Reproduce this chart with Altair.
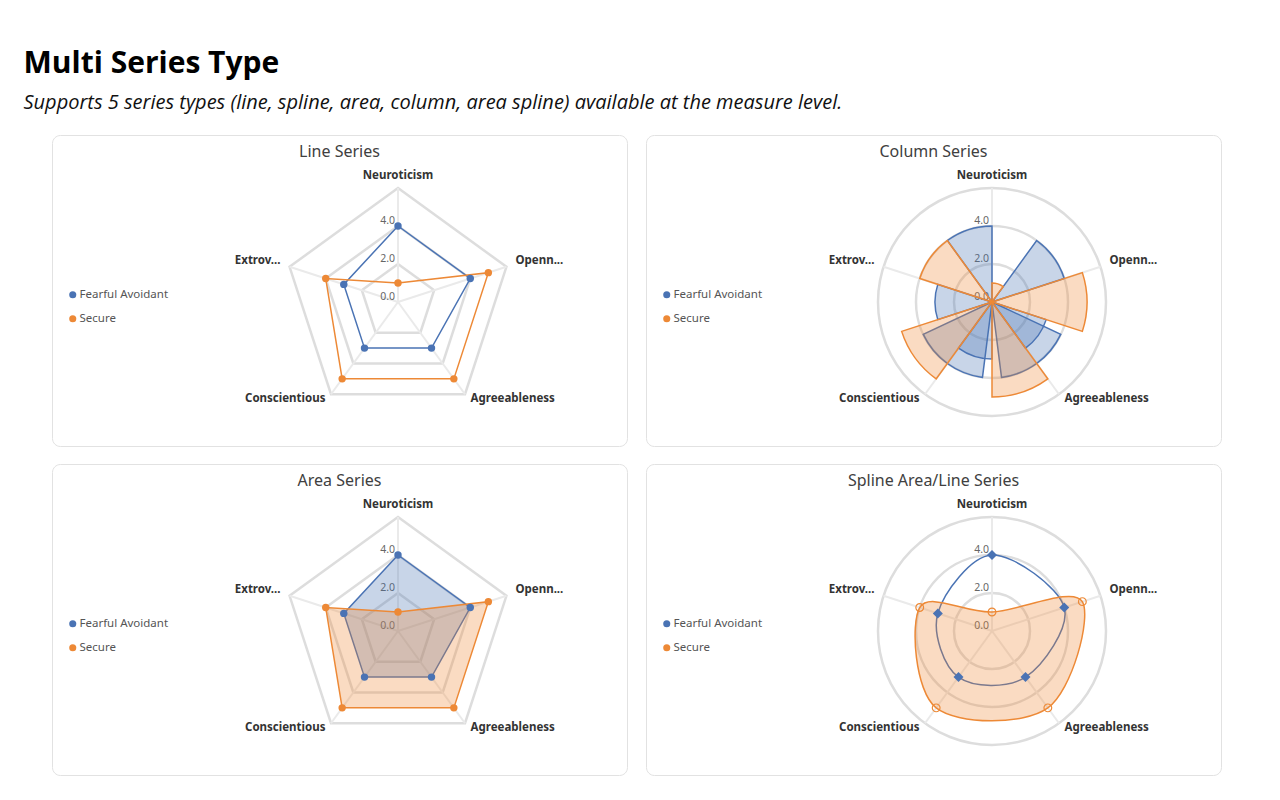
import math
import altair as alt
import pandas as pd

# ---------------- data ----------------
categories = ["Neuroticism", "Openness", "Agreeableness", "Conscientious", "Extroversion"]
axis_labels = ["Neuroticism", "Openn...", "Agreeableness", "Conscientious", "Extrov..."]
series_names = ["Fearful Avoidant", "Secure"]
fearful_avoidant = [4.0, 4.0, 3.0, 3.0, 3.0]
secure = [1.0, 5.0, 5.0, 5.0, 4.0]
# wider blue columns visible behind the grouped columns in the column panel
fearful_avoidant_wide = [0.0, 0.0, 4.0, 4.0, 0.0]
grid_levels = [2, 4, 6]
tick_values = [0, 2, 4]
tick_labels = ["0.0", "2.0", "4.0"]

# ---------------- style ----------------
BLUE = "#4a73b4"
ORANGE = "#ed8936"
GRID = "#dddddd"
SPOKE = "#eaeaea"
FONT = "Noto Sans"
W, H = 575, 311          # panel size
CX, CY = 346, 167        # radar centre inside a panel (pixels)
U = 19.0                 # pixels per unit
RMAX = 6

n = len(categories)
rows = []
for s, vals in zip(series_names, [fearful_avoidant, secure]):
    for i, (c, v) in enumerate(zip(categories, vals)):
        rows.append({"series": s, "category": c, "idx": i, "value": v})
points_df = pd.DataFrame(rows)
wide_df = pd.DataFrame({"category": categories, "idx": list(range(n)), "value": fearful_avoidant_wide})
wide_df = wide_df[wide_df["value"] > 0]
cat_df = pd.DataFrame({"category": categories, "label": axis_labels, "idx": list(range(n))})
grid_df = pd.DataFrame([{"level": l, "idx": i} for l in grid_levels for i in range(n)])
ring_df = pd.DataFrame({"level": grid_levels, "t0": [0] * len(grid_levels), "t1": [360] * len(grid_levels)})
tick_df = pd.DataFrame({"value": tick_values, "label": tick_labels})

ANG = f"datum.idx * 2 * PI / {n}"
STEP = 360 / n

xs = alt.Scale(domain=[-CX / U, (W - CX) / U], nice=False, zero=False)
ys = alt.Scale(domain=[-(H - CY) / U, CY / U], nice=False, zero=False)
rs = alt.Scale(domain=[0, RMAX], range=[0, RMAX * U], zero=True)
ts = alt.Scale(domain=[0, 360], range=[0, 2 * math.pi])
cs = alt.Scale(domain=series_names, range=[BLUE, ORANGE])


def X(f):
    return alt.X(f"{f}:Q", scale=xs, axis=None)


def Y(f):
    return alt.Y(f"{f}:Q", scale=ys, axis=None)


def legend():
    return alt.Legend(title=None, orient="none", legendX=15, legendY=154,
                      symbolType="circle", symbolSize=50, symbolStrokeWidth=0,
                      labelFont=FONT, labelFontSize=11.5, labelColor="#555555",
                      rowPadding=11, labelOffset=1, padding=0, symbolOpacity=1)


def xy(chart, valuefield="value"):
    return chart.transform_calculate(
        px=f"datum.{valuefield} * sin({ANG})",
        py=f"datum.{valuefield} * cos({ANG})",
        ox="0", oy="0",
    )


def polygon_grid():
    return xy(alt.Chart(grid_df), "level").mark_line(
        interpolate="linear-closed", color=GRID, strokeWidth=2.5
    ).encode(x=X("px"), y=Y("py"), detail="level:O", order="idx:Q")


def ring_grid():
    return alt.Chart(ring_df).transform_calculate(ox="0", oy="0").mark_arc(
        filled=False, color=GRID, strokeWidth=2.5
    ).encode(
        x=X("ox"), y=Y("oy"),
        theta=alt.Theta("t0:Q", scale=ts, stack=False), theta2=alt.Theta2("t1"),
        radius=alt.Radius("level:Q", scale=rs), radius2=alt.Radius2("level"),
    )


def spokes():
    return alt.Chart(cat_df).transform_calculate(
        px=f"{RMAX} * sin({ANG})", py=f"{RMAX} * cos({ANG})", ox="0", oy="0"
    ).mark_rule(color=SPOKE, strokeWidth=2).encode(
        x=X("ox"), y=Y("oy"), x2="px:Q", y2="py:Q"
    )


def ticks():
    return alt.Chart(tick_df).transform_calculate(ox="0", py="datum.value").mark_text(
        align="right", baseline="alphabetic", dx=-3, dy=-2, font=FONT, fontSize=10.5, color="#666666"
    ).encode(x=X("ox"), y=Y("py"), text="label:N")


def cat_labels():
    base = alt.Chart(cat_df).transform_calculate(
        px=f"{RMAX + 0.5} * sin({ANG})", py=f"{RMAX + 0.5} * cos({ANG})", s=f"sin({ANG})"
    )
    out = []
    for align, cond in [("center", "abs(datum.s) < 0.2"), ("left", "datum.s >= 0.2"), ("right", "datum.s <= -0.2")]:
        out.append(base.transform_filter(cond).mark_text(
            align=align, baseline="alphabetic", font=FONT, fontSize=11.5, fontWeight="bold", color="#333333"
        ).encode(x=X("px"), y=Y("py"), text="label:N"))
    return out


def series_line(name, color, interp, fill=False):
    kw = dict(interpolate=interp, color=color, strokeWidth=1.5)
    if fill:
        kw.update(fill=color, fillOpacity=0.3)
    return xy(alt.Chart(points_df)).transform_filter(f"datum.series == '{name}'").mark_line(**kw).encode(
        x=X("px"), y=Y("py"), order="idx:Q"
    )


def series_points(name=None, with_legend=True, **mk):
    ch = xy(alt.Chart(points_df))
    if name:
        ch = ch.transform_filter(f"datum.series == '{name}'")
    enc = dict(x=X("px"), y=Y("py"))
    if with_legend:
        enc["color"] = alt.Color("series:N", scale=cs, legend=legend())
    return ch.mark_point(**mk).encode(**enc)


def panel(layers, title):
    return alt.layer(*layers).properties(
        width=W, height=H,
        title=alt.Title(title, font=FONT, fontSize=16, fontWeight="normal", color="#404040",
                        anchor="middle", offset=-25),
    )


# ---- Line series
p_line = panel(
    [polygon_grid(), spokes(), ticks(),
     series_line("Fearful Avoidant", BLUE, "linear-closed"),
     series_line("Secure", ORANGE, "linear-closed"),
     series_points(filled=True, size=55, opacity=1)] + cat_labels(),
    "Line Series",
)

# ---- Column series
wide_cols = alt.Chart(wide_df).transform_calculate(
    a0=f"datum.idx * {STEP} - {STEP * 0.4}", a1=f"datum.idx * {STEP} + {STEP * 0.4}", ox="0", oy="0"
).mark_arc(color=BLUE, fillOpacity=0.3, stroke=BLUE, strokeWidth=1.5).encode(
    x=X("ox"), y=Y("oy"),
    theta=alt.Theta("a0:Q", scale=ts, stack=False), theta2=alt.Theta2("a1"),
    radius=alt.Radius("value:Q", scale=rs),
)
cols = alt.Chart(points_df).transform_calculate(
    a0=f"datum.idx * {STEP} + (datum.series == 'Secure' ? 0 : {-STEP / 2})",
    a1=f"datum.idx * {STEP} + (datum.series == 'Secure' ? {STEP / 2} : 0)",
    ox="0", oy="0",
).mark_arc(fillOpacity=0.3, strokeWidth=1.5).encode(
    x=X("ox"), y=Y("oy"),
    theta=alt.Theta("a0:Q", scale=ts, stack=False), theta2=alt.Theta2("a1"),
    radius=alt.Radius("value:Q", scale=rs),
    color=alt.Color("series:N", scale=cs, legend=legend()),
    stroke=alt.Stroke("series:N", scale=cs, legend=None),
)
p_col = panel([ring_grid(), spokes(), ticks(), wide_cols, cols] + cat_labels(), "Column Series")

# ---- Area series
p_area = panel(
    [polygon_grid(), spokes(), ticks(),
     series_line("Fearful Avoidant", BLUE, "linear-closed", fill=True),
     series_line("Secure", ORANGE, "linear-closed", fill=True),
     series_points(filled=True, size=55, opacity=1)] + cat_labels(),
    "Area Series",
)

# ---- Spline area / line series
p_spline = panel(
    [ring_grid(), spokes(), ticks(),
     series_line("Fearful Avoidant", BLUE, "cardinal-closed"),
     series_line("Secure", ORANGE, "cardinal-closed", fill=True),
     series_points("Fearful Avoidant", True, filled=True, shape="diamond", size=100, opacity=1),
     series_points("Secure", False, filled=False, shape="circle", size=60, color=ORANGE, strokeWidth=1.2, opacity=1)]
    + cat_labels(),
    "Spline Area/Line Series",
)

row1 = alt.hconcat(p_line, p_col, spacing=17).resolve_legend(color="independent")
row2 = alt.hconcat(p_area, p_spline, spacing=17).resolve_legend(color="independent")

chart = alt.vconcat(row1, row2, spacing=16).resolve_legend(color="independent").properties(
    title=alt.Title(
        "Multi Series Type",
        subtitle="Supports 5 series types (line, spline, area, column, area spline) available at the measure level.",
        anchor="start", dx=-28, font="Open Sans", fontSize=30, fontWeight="bold", color="#000000",
        subtitleFont="Open Sans", subtitleFontSize=20, subtitleFontStyle="italic", subtitleColor="#111111",
        subtitlePadding=14, offset=22,
    ),
    padding={"left": 15, "top": 40, "right": 10, "bottom": 10},
).configure_view(stroke="#e2e2e2", strokeWidth=1, cornerRadius=8)

chart.save("out.html", embed_options={"renderer": "svg", "actions": False})
